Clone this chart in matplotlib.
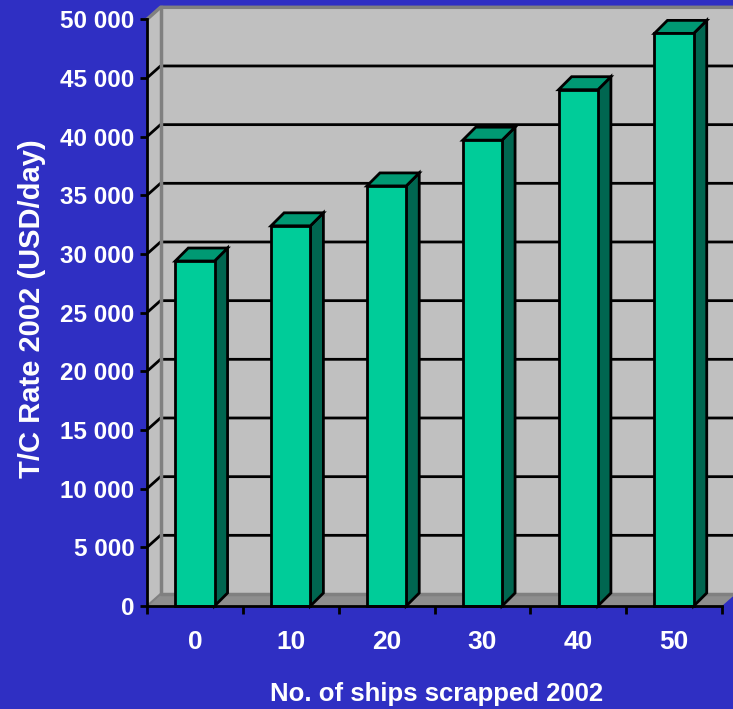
import numpy as np
import matplotlib
matplotlib.use("Agg")
from matplotlib import pyplot as plt
from matplotlib.patches import Polygon, Rectangle

# T/C rate vs ships scrapped
ships = ["0", "10", "20", "30", "40", "50"]
rate = [29400, 32400, 35800, 39700, 44000, 48800]
yticks = [0, 5000, 10000, 15000, 20000, 25000, 30000, 35000, 40000, 45000, 50000]
ytick_labels = ["0", "5 000", "10 000", "15 000", "20 000", "25 000",
                "30 000", "35 000", "40 000", "45 000", "50 000"]

bg = "#2F2FC3"
wall = "#C0C0C0"
floor_c = "#8E8E8E"
edge_gray = "#808080"
front_c = "#00CC99"
side_c = "#006650"
top_c = "#009973"

plt.rcParams["font.family"] = ["Liberation Sans", "DejaVu Sans"]
plt.rcParams["font.weight"] = "bold"

W, H = 733, 709
fig = plt.figure(figsize=(W / 100, H / 100), dpi=100, facecolor=bg)
# front plane of the 3d box, in pixels
L, R, B, T = 147, 722, 606, 19.3
ax = fig.add_axes([L / W, 1 - B / H, (R - L) / W, (B - T) / H])
ax.set_facecolor("none")

x0, x1 = -0.5, len(ships) - 0.5
ymax = 50000
ax.set_xlim(x0, x1)
ax.set_ylim(0, ymax)

# depth offsets (pixel -> data units)
px_x = (x1 - x0) / (R - L)
px_y = ymax / (B - T)
dx, dy = 13.5 * px_x, 12 * px_y
bdx, bdy = 13 * px_x, 13 * px_y

# walls
back = Polygon([(x0 + dx, dy), (x1 + dx, dy), (x1 + dx, ymax + dy), (x0 + dx, ymax + dy)],
               closed=True, facecolor=wall, edgecolor="none", zorder=0, clip_on=False)
side = Polygon([(x0, 0), (x0 + dx, dy), (x0 + dx, ymax + dy), (x0, ymax)],
               closed=True, facecolor=wall, edgecolor="none", zorder=0, clip_on=False)
floor = Polygon([(x0, 0), (x1, 0), (x1 + dx, dy), (x0 + dx, dy)],
                closed=True, facecolor=floor_c, edgecolor="none", zorder=1, clip_on=False)
for p in (back, side, floor):
    ax.add_patch(p)

# gridlines on back and side walls
for v in yticks[1:-1]:
    ax.plot([x0, x0 + dx, x1 + dx], [v, v + dy, v + dy], color="black", lw=2,
            zorder=1, clip_on=False, solid_capstyle="butt")

# wall borders
ax.plot([x0, x0 + dx, x1 + dx], [ymax, ymax + dy, ymax + dy], color=edge_gray, lw=2.5,
        zorder=1, clip_on=False)
ax.plot([x0 + dx, x0 + dx, x1 + dx], [ymax + dy, dy, dy], color=edge_gray, lw=2.5,
        zorder=1, clip_on=False)
ax.plot([x0, x0 + dx], [0, dy], color=edge_gray, lw=1.5, zorder=1, clip_on=False)

# 3d columns
w = 0.41
for i, v in enumerate(rate):
    xl, xr = i - w / 2, i + w / 2
    ax.add_patch(Polygon([(xr, 0), (xr + bdx, bdy), (xr + bdx, v + bdy), (xr, v)],
                         closed=True, facecolor=side_c, edgecolor="black", lw=2,
                         zorder=3, clip_on=False))
    ax.add_patch(Polygon([(xl, v), (xr, v), (xr + bdx, v + bdy), (xl + bdx, v + bdy)],
                         closed=True, facecolor=top_c, edgecolor="black", lw=2,
                         zorder=3, clip_on=False))
    ax.add_patch(Rectangle((xl, 0), w, v, facecolor=front_c, edgecolor="black",
                           lw=2, zorder=3, clip_on=False))

# axes
for s in ("top", "right"):
    ax.spines[s].set_visible(False)
for s in ("left", "bottom"):
    ax.spines[s].set_color("black")
    ax.spines[s].set_linewidth(2)
    ax.spines[s].set_zorder(4)

ax.set_yticks(yticks)
ax.set_yticklabels(ytick_labels)
ax.set_xticks(np.arange(len(ships)))
ax.set_xticklabels(ships)
ax.set_xticks(np.arange(len(ships) + 1) - 0.5, minor=True)
ax.tick_params(axis="x", which="major", length=0, pad=17, labelsize=19, labelcolor="white")
ax.tick_params(axis="x", which="minor", length=6, width=2, color="black", direction="out")
ax.tick_params(axis="y", length=5, width=2, color="black", pad=4, labelsize=17.5,
               labelcolor="white")

fig.text(437 / W, 1 - 701 / H, "No. of ships scrapped 2002", color="white",
         fontsize=18.5, fontweight="bold", ha="center", va="baseline")
fig.text(32 / W, 1 - 309 / H, "T/C Rate 2002 (USD/day)", color="white",
         fontsize=21, fontweight="bold", ha="center", va="center", rotation=90)

plt.savefig("out.png", dpi=100, facecolor=bg)
